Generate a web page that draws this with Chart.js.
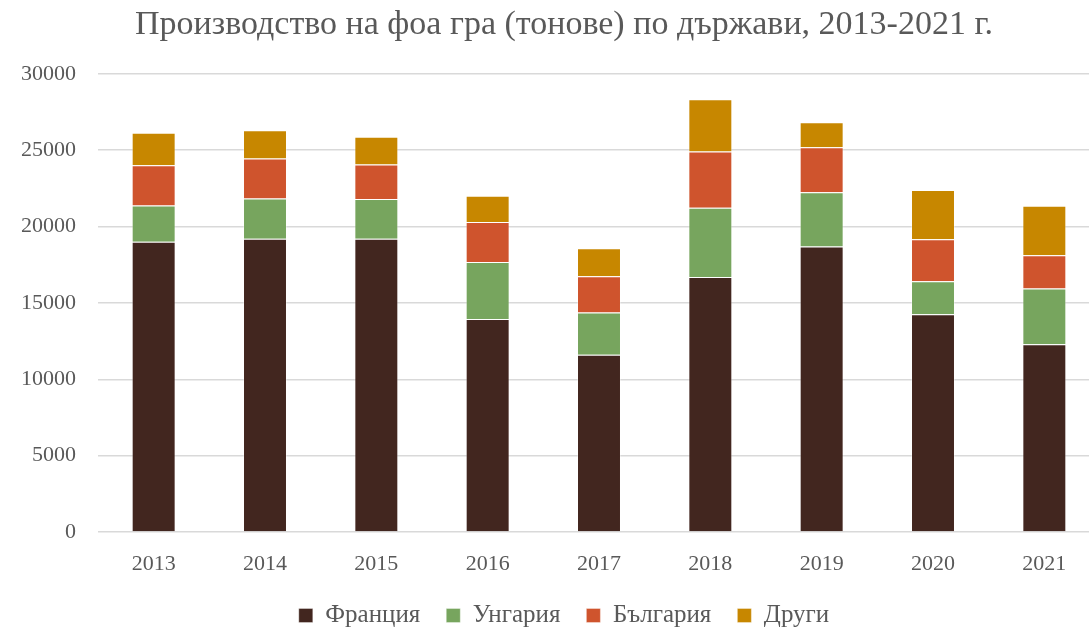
<!DOCTYPE html>
<html>
<head>
<meta charset="utf-8">
<script src="https://cdn.jsdelivr.net/npm/chart.js@4"></script>
<style>
  html, body { margin: 0; padding: 0; background: #fff; overflow: hidden; }
  #wrap { width: 1128px; height: 630px; }
</style>
</head>
<body>
<div id="wrap"><canvas id="c" width="1128" height="630"></canvas></div>
<script>
const years = ["2013", "2014", "2015", "2016", "2017", "2018", "2019", "2020", "2021"];
const france   = [19000, 19200, 19200, 13950, 11600, 16700, 18700, 14250, 12300];
const hungary  = [2380, 2630, 2600, 3730, 2770, 4530, 3550, 2170, 3650];
const bulgaria = [2630, 2630, 2260, 2610, 2370, 3680, 2940, 2740, 2170];
const others   = [2130, 1840, 1820, 1730, 1840, 3420, 1640, 3240, 3240];

const grey = "#595959";
const serif = "'Liberation Serif', 'DejaVu Serif', serif";

function ds(label, data, color) {
  return {
    label: label,
    data: data,
    backgroundColor: color,
    borderColor: "rgba(255,255,255,0.35)",
    borderWidth: 1,
    barPercentage: 0.395,
    categoryPercentage: 1
  };
}

new Chart(document.getElementById("c"), {
  type: "bar",
  data: {
    labels: years,
    datasets: [
      ds("Франция", france, "#42261F"),
      ds("Унгария", hungary, "#77A55E"),
      ds("България", bulgaria, "#CF542D"),
      ds("Други", others, "#C78700")
    ]
  },
  options: {
    responsive: false,
    animation: false,
    layout: { padding: { left: 0, right: 0, top: 0, bottom: -8 } },
    plugins: {
      title: {
        display: true,
        text: "Производство на фоа гра (тонове) по държави, 2013-2021 г.",
        color: grey,
        font: { family: serif, size: 34, weight: "normal" },
        padding: { top: 5, bottom: 28 }
      },
      legend: {
        position: "bottom",
        labels: {
          color: grey,
          font: { family: serif, size: 25 },
          boxWidth: 14,
          boxHeight: 14,
          padding: 26
        }
      },
      tooltip: { enabled: false }
    },
    scales: {
      x: {
        stacked: true,
        grid: { display: false, drawTicks: false },
        border: { display: false },
        ticks: { color: grey, font: { family: serif, size: 22 }, padding: 19 },
        afterFit: s => { s.height = 45; }
      },
      y: {
        stacked: true,
        min: 0,
        max: 30000,
        ticks: {
          stepSize: 5000,
          color: grey,
          font: { family: serif, size: 22 },
          padding: 22,
          callback: v => String(v)
        },
        grid: { color: "#d9d9d9", lineWidth: 1.5, drawTicks: false },
        border: { display: false },
        afterFit: s => { s.width = 98; }
      },
      // empty right-hand spacer so the plot ends where the original's does
      y2: {
        position: "right",
        ticks: { display: false },
        grid: { display: false, drawTicks: false },
        border: { display: false },
        afterFit: s => { s.width = 28; }
      }
    }
  }
});
</script>
</body>
</html>
